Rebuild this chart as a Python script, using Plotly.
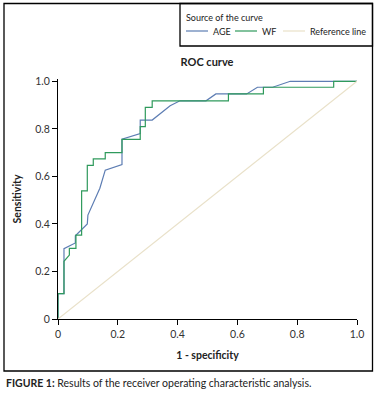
import plotly.graph_objects as go

# ---- data ----
age_x = [0, 0, 0.02, 0.02, 0.058, 0.058, 0.098, 0.10, 0.14, 0.158, 0.214, 0.214,
         0.275, 0.275, 0.315, 0.375, 0.408, 0.495, 0.528, 0.631, 0.667, 0.718, 0.777, 1.0]
age_y = [0, 0.107, 0.107, 0.296, 0.32, 0.35, 0.40, 0.437, 0.55, 0.626, 0.65, 0.756,
         0.78, 0.837, 0.837, 0.897, 0.918, 0.918, 0.947, 0.947, 0.975, 0.975, 1.0, 1.0]

wf_x = [0, 0, 0.02, 0.02, 0.038, 0.038, 0.06, 0.06, 0.079, 0.079, 0.098, 0.098,
        0.118, 0.118, 0.158, 0.158, 0.214, 0.214, 0.275, 0.275, 0.292, 0.292,
        0.315, 0.315, 0.570, 0.570, 0.687, 0.687, 0.922, 0.922, 1.0]
wf_y = [0, 0.107, 0.107, 0.243, 0.269, 0.297, 0.297, 0.353, 0.353, 0.539, 0.539, 0.646,
        0.646, 0.674, 0.674, 0.70, 0.70, 0.756, 0.756, 0.809, 0.809, 0.89,
        0.89, 0.918, 0.918, 0.947, 0.947, 0.975, 0.975, 1.0, 1.0]

ref_x = [0, 1]
ref_y = [0, 1]

series_names = ["AGE", "WF", "Reference line"]
legend_title = "Source of the curve"

tick_vals = [0, 0.2, 0.4, 0.6, 0.8, 1.0]
tick_text = ["0", "0.2", "0.4", "0.6", "0.8", "1.0"]

# ---- layout geometry ----
W, H = 379, 396
L, R, T, B = 58, 22, 79, 77
PW, PH = W - L - R, H - T - B
Y0 = H - B  # pixel of y=0


def px(X):
    return (X - L) / PW


def py(Y):
    return (Y0 - Y) / PH


FONT = "Lato"
colors = ["#5d7db3", "#2f9a5c", "#e9e1c9"]

fig = go.Figure()
for xs, ys, nm, c in zip([age_x, wf_x, ref_x], [age_y, wf_y, ref_y], series_names, colors):
    fig.add_trace(go.Scatter(x=xs, y=ys, mode="lines", name=nm,
                             line=dict(color=c, width=1.2)))

yr_top = PH / (Y0 - 81.3)

axis_common = dict(
    showgrid=False, zeroline=False, showline=True, linecolor="black", linewidth=1,
    ticks="outside", ticklen=5, tickcolor="black", tickwidth=1,
    tickvals=tick_vals, ticktext=tick_text,
    tickfont=dict(family=FONT, size=10.5, color="#333333"),
)

shapes = [
    dict(type="rect", xref="paper", yref="paper",
         x0=px(4), x1=px(372.5), y0=py(371), y1=py(3.5),
         line=dict(color="black", width=1.3), fillcolor="rgba(0,0,0,0)", layer="below"),
    dict(type="rect", xref="paper", yref="paper",
         x0=px(180), x1=px(372.5), y0=py(46), y1=py(3.5),
         line=dict(color="black", width=1.3), fillcolor="rgba(0,0,0,0)", layer="below"),
]
annotations = [
    dict(text="<b>FIGURE 1:</b> Results of the receiver operating characteristic analysis.",
         xref="paper", yref="paper", x=px(4), y=py(383), xanchor="left", yanchor="middle",
         showarrow=False, font=dict(family=FONT, size=10.5, color="#222222")),
    dict(text=legend_title, xref="paper", yref="paper", x=px(184), y=py(17),
         xanchor="left", yanchor="middle", showarrow=False,
         font=dict(family=FONT, size=9, color="#222222")),
]
# manual legend entries (sample line + label)
legend_x = [186, 235, 283]
for lx, nm, c in zip(legend_x, series_names, colors):
    shapes.append(dict(type="line", xref="paper", yref="paper",
                       x0=px(lx), x1=px(lx + 22), y0=py(31), y1=py(31),
                       line=dict(color=c, width=1.2)))
    annotations.append(dict(text=nm, xref="paper", yref="paper", x=px(lx + 25), y=py(31),
                            xanchor="left", yanchor="middle", showarrow=False,
                            font=dict(family=FONT, size=9, color="#222222")))

fig.update_layout(
    width=W, height=H,
    margin=dict(l=L, r=R, t=T, b=B, autoexpand=False),
    paper_bgcolor="white", plot_bgcolor="white",
    font=dict(family=FONT, color="#222222"),
    title=dict(text="ROC curve", x=px(207), xref="paper", xanchor="center",
               y=1 - 62 / H, yanchor="middle",
               font=dict(family=FONT, size=11, color="#222222", weight="bold")),
    xaxis=dict(range=[0, 1], **axis_common,
               title=dict(text="1 - specificity", standoff=13,
                          font=dict(family=FONT, size=10.5, color="#222222", weight="bold"))),
    yaxis=dict(range=[0, yr_top], **axis_common,
               title=dict(text="Sensitivity", standoff=11,
                          font=dict(family=FONT, size=10.5, color="#222222", weight="bold"))),
    showlegend=False,
    shapes=shapes,
    annotations=annotations,
)

fig.write_html("out.html", config={"displayModeBar": False, "staticPlot": True},
               post_script="document.body.style.margin='0';document.body.style.overflow='hidden';")
